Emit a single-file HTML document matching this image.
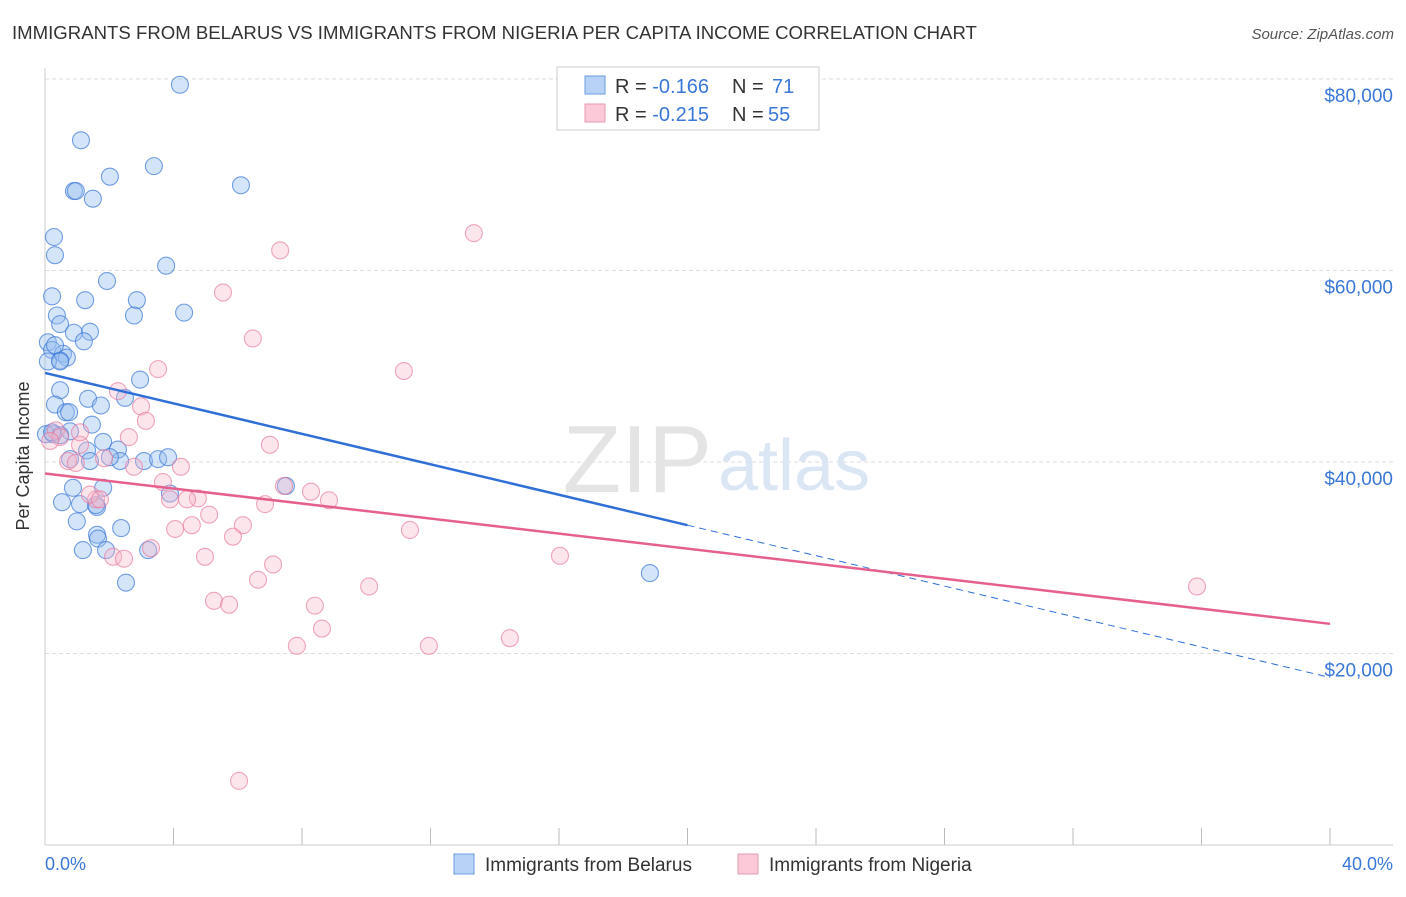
<!DOCTYPE html>
<html><head><meta charset="utf-8"><style>
body{margin:0;background:#fff;font-family:"Liberation Sans",sans-serif;}
svg text{font-family:"Liberation Sans",sans-serif;}
</style></head><body>
<svg width="1406" height="892" xmlns="http://www.w3.org/2000/svg">
<text x="12" y="39" font-size="18.6" fill="#333">IMMIGRANTS FROM BELARUS VS IMMIGRANTS FROM NIGERIA PER CAPITA INCOME CORRELATION CHART</text>
<text x="1394" y="39" font-size="15" fill="#555" font-style="italic" text-anchor="end">Source: ZipAtlas.com</text>
<g id="grid"></g>
<text x="712" y="492" font-size="96" fill="#e4e4e4" font-family="Liberation Serif" text-anchor="end">ZIP</text>
<text x="718" y="490" font-size="72" fill="#dbe6f5">atlas</text>
<line x1="45" y1="68" x2="45" y2="845" stroke="#ccc"/>
<line x1="45" y1="845" x2="1393" y2="845" stroke="#ccc"/>
<text x="29" y="456" font-size="18" fill="#333" text-anchor="middle" transform="rotate(-90 29 456)">Per Capita Income</text>
<text x="45" y="870" font-size="18" fill="#3a78d8">0.0%</text>
<text x="1393" y="870" font-size="18" fill="#3a78d8" text-anchor="end">40.0%</text>
<g id="points"></g>
<g id="lines"></g>
<g>
<rect x="557" y="67" width="262" height="63" fill="#fff" stroke="#ccc"/>
<rect x="585" y="76" width="20" height="18" fill="#b8d2f5" stroke="#6a9ee0"/>
<rect x="585" y="104" width="20" height="18" fill="#fcc9d8" stroke="#e89ab2"/>
<text x="615" y="93" font-size="20" fill="#333">R = <tspan fill="#3a78d8">-0.166</tspan></text>
<text x="732" y="93" font-size="20" fill="#333">N = </text>
<text x="772" y="93" font-size="20" fill="#3a78d8">71</text>
<text x="615" y="121" font-size="20" fill="#333">R = <tspan fill="#3a78d8">-0.215</tspan></text>
<text x="732" y="121" font-size="20" fill="#333">N = </text>
<text x="768" y="121" font-size="20" fill="#3a78d8">55</text>
</g>
<g>
<rect x="454" y="854" width="20" height="20" fill="#b8d2f5" stroke="#6a9ee0"/>
<text x="485" y="871" font-size="19" fill="#333">Immigrants from Belarus</text>
<rect x="738" y="854" width="20" height="20" fill="#fcc9d8" stroke="#e89ab2"/>
<text x="769" y="871" font-size="19" fill="#333">Immigrants from Nigeria</text>
</g>
</svg>
<script>
const yTicks=[20000,40000,60000,80000];
const yTickLabels=["$20,000","$40,000","$60,000","$80,000"];
const xTicks=[0,4,8,12,16,20,24,28,32,36,40];
const belarusX=[4.2,1.12,3.39,2.02,0.9,0.96,1.49,6.1,0.28,0.31,3.77,1.93,0.22,1.25,2.86,0.37,2.77,4.33,0.47,1.4,0.9,1.21,0.09,0.22,0.56,0.68,0.47,2.96,0.47,1.34,2.49,1.74,0.31,0.65,0.75,1.46,0.25,0.78,0.47,1.81,1.31,2.27,1.4,2.34,3.08,3.52,3.83,0.87,1.81,0.53,1.09,1.62,2.37,0.99,1.62,1.65,1.18,1.9,3.21,2.52,3.89,7.5,18.83,0.03,1.59,0.31,0.09,2.02,0.47,0.78,0.22];
const belarusY=[79400,73600,70900,69800,68300,68300,67500,68900,63500,61600,60500,58900,57300,56900,56900,55300,55300,55600,54400,53600,53500,52600,52500,51700,51300,50900,50600,48600,47500,46600,46700,45900,46000,45200,45200,43900,42900,43200,42800,42100,41200,41300,40100,40100,40100,40300,40500,37300,37300,35800,35600,35300,33100,33800,32400,32000,30800,30800,30800,27400,36700,37500,28400,42900,35500,52200,50500,40500,50500,40300,43100];
const nigeriaX=[13.35,7.32,5.54,6.47,3.52,11.17,2.27,2.99,3.14,0.34,0.47,2.61,1.09,7.0,0.72,1.84,0.96,4.23,2.77,3.67,7.44,8.28,8.84,4.76,4.42,6.85,1.59,1.4,5.11,6.16,4.57,4.05,11.36,5.85,3.3,2.12,2.46,4.98,16.03,7.1,6.63,10.09,35.86,5.26,5.73,8.4,8.62,14.47,7.84,11.95,6.04,0.16,1.71,1.09,3.89];
const nigeriaY=[63900,62100,57700,52900,49700,49500,47400,45800,44300,43300,42600,42600,41800,41800,40100,40400,39900,39500,39500,37900,37500,36900,36000,36200,36100,35600,36100,36600,34500,33400,33400,33000,32900,32200,31000,30100,29900,30100,30200,29300,27700,27000,27000,25500,25100,25000,22600,21600,20800,20800,6700,42200,36100,43100,36100];
const belarusTrend=[[0,49300],[20,33400],[40,17500]];
const nigeriaTrend=[[0,38800],[40,23100]];
const NS="http://www.w3.org/2000/svg";
const X=p=>45+p*32.125, Y=v=>845-v*191.5/20000;
const grid=document.getElementById('grid');
yTicks.forEach((t,i)=>{
 const l=document.createElementNS(NS,'line');
 l.setAttribute('x1',45);l.setAttribute('x2',1393);l.setAttribute('y1',Y(t));l.setAttribute('y2',Y(t));
 l.setAttribute('stroke','#ddd');l.setAttribute('stroke-dasharray','4,3');
 
 
 grid.appendChild(l);
 const tx=document.createElementNS(NS,'text');
 tx.setAttribute('x',1393);tx.setAttribute('y',Y(t)+23);tx.setAttribute('text-anchor','end');
 tx.setAttribute('font-size','19');tx.setAttribute('fill','#3a78d8');tx.textContent=yTickLabels[i];
 
 
 grid.appendChild(tx);
});
xTicks.forEach(t=>{
 const l=document.createElementNS(NS,'line');
 l.setAttribute('x1',X(t));l.setAttribute('x2',X(t));l.setAttribute('y1',828);l.setAttribute('y2',845);
 l.setAttribute('stroke','#bbb');
 
 
 grid.appendChild(l);
});
const pts=document.getElementById('points');
function dots(xs,ys,fill,stroke,name){
 xs.forEach((x,i)=>{
  const c=document.createElementNS(NS,'circle');
  c.setAttribute('cx',X(x));c.setAttribute('cy',Y(ys[i]));c.setAttribute('r',8.5);
  c.setAttribute('fill',fill);c.setAttribute('stroke',stroke);c.setAttribute('stroke-width','1.1');
  
  
  pts.appendChild(c);
 });
}
dots(belarusX,belarusY,'rgba(150,190,240,0.4)','rgba(60,120,215,0.7)','belarus-point');
dots(nigeriaX,nigeriaY,'rgba(250,180,200,0.35)','rgba(230,120,155,0.65)','nigeria-point');
const lines=document.getElementById('lines');
function seg(a,b,color,dash,name){
 const l=document.createElementNS(NS,'line');
 l.setAttribute('x1',X(a[0]));l.setAttribute('y1',Y(a[1]));l.setAttribute('x2',X(b[0]));l.setAttribute('y2',Y(b[1]));
 l.setAttribute('stroke',color);l.setAttribute('stroke-width',dash?1:2.5);
 if(dash)l.setAttribute('stroke-dasharray','7,5');
 
 
 lines.appendChild(l);
}
seg(belarusTrend[0],belarusTrend[1],'#2f6fd6',false,'belarus-trend-line');
seg(belarusTrend[1],belarusTrend[2],'#2f6fd6',true,'belarus-trend-extension');
seg(nigeriaTrend[0],nigeriaTrend[1],'#e5608c',false,'nigeria-trend-line');
</script>
</body></html>
